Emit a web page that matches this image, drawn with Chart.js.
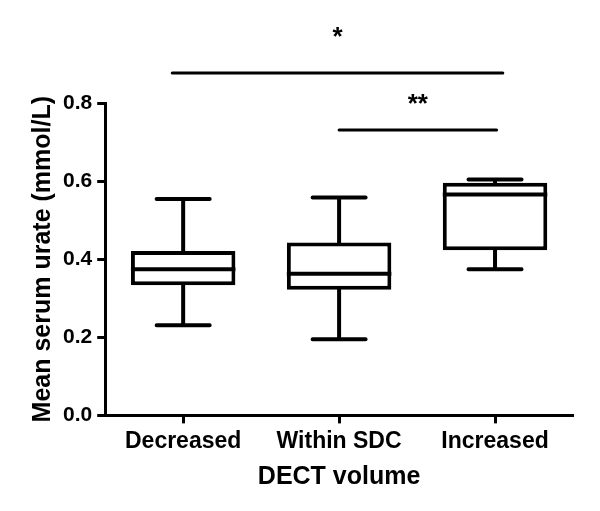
<!DOCTYPE html>
<html>
<head>
<meta charset="utf-8">
<script src="https://cdn.jsdelivr.net/npm/chart.js@4.4.0/dist/chart.umd.min.js"></script>
<style>
  html, body { margin: 0; padding: 0; background: #fff; }
  #wrap { width: 600px; height: 511px; }
</style>
</head>
<body>
<div id="wrap"><canvas id="chart" width="600" height="511"></canvas></div>
<script>
// box plot values (mmol/L)
const categories = ["Decreased", "Within SDC", "Increased"];
const whiskerMin = [0.231, 0.195, 0.374];
const quartile1 = [0.333, 0.322, 0.423];
const medians = [0.374, 0.363, 0.566];
const quartile3 = [0.421, 0.443, 0.596];
const whiskerMax = [0.554, 0.558, 0.604];

// significance brackets: from category, to category, label, line height, label height
const sigFrom = [-0.07, 1.0];
const sigTo = [2.05, 2.01];
const sigLabels = ["*", "**"];
const sigLineY = [0.877, 0.731];
const sigLabelY = [0.98, 0.808];

const yTicks = [0, 0.2, 0.4, 0.6, 0.8];

const FONT = "'Liberation Sans', Arial, sans-serif";

// whiskers, caps, medians and significance bars
const boxExtras = {
  id: "boxExtras",
  afterDraw(chart) {
    const ctx = chart.ctx;
    const x = chart.scales.x;
    const y = chart.scales.y;
    ctx.save();
    ctx.strokeStyle = "#000";
    ctx.lineWidth = 4;
    ctx.lineCap = "round";
    categories.forEach((c, i) => {
      const cx = x.getPixelForValue(i);
      const capL = x.getPixelForValue(i - 0.17);
      const capR = x.getPixelForValue(i + 0.17);
      const boxL = x.getPixelForValue(i - 0.335);
      const boxR = x.getPixelForValue(i + 0.335);
      ctx.beginPath();
      // upper whisker
      ctx.moveTo(cx, y.getPixelForValue(quartile3[i]));
      ctx.lineTo(cx, y.getPixelForValue(whiskerMax[i]));
      ctx.moveTo(capL, y.getPixelForValue(whiskerMax[i]));
      ctx.lineTo(capR, y.getPixelForValue(whiskerMax[i]));
      // lower whisker
      ctx.moveTo(cx, y.getPixelForValue(quartile1[i]));
      ctx.lineTo(cx, y.getPixelForValue(whiskerMin[i]));
      ctx.moveTo(capL, y.getPixelForValue(whiskerMin[i]));
      ctx.lineTo(capR, y.getPixelForValue(whiskerMin[i]));
      ctx.stroke();
      // median
      ctx.beginPath();
      ctx.lineCap = "butt";
      ctx.moveTo(boxL, y.getPixelForValue(medians[i]));
      ctx.lineTo(boxR, y.getPixelForValue(medians[i]));
      ctx.stroke();
      ctx.lineCap = "round";
    });

    ctx.lineWidth = 3;
    ctx.fillStyle = "#000";
    ctx.font = "bold 26px " + FONT;
    ctx.textAlign = "center";
    ctx.textBaseline = "middle";
    sigLabels.forEach((lab, k) => {
      const ly = y.getPixelForValue(sigLineY[k]);
      ctx.beginPath();
      ctx.moveTo(x.getPixelForValue(sigFrom[k]), ly);
      ctx.lineTo(x.getPixelForValue(sigTo[k]), ly);
      ctx.stroke();
      const mid = (sigFrom[k] + sigTo[k]) / 2;
      ctx.fillText(lab, x.getPixelForValue(mid), y.getPixelForValue(sigLabelY[k]) + 5);
    });
    ctx.restore();
  }
};

new Chart(document.getElementById("chart"), {
  type: "bar",
  data: {
    labels: categories,
    datasets: [{
      data: categories.map((c, i) => [quartile1[i], quartile3[i]]),
      backgroundColor: "#fff",
      borderColor: "#000",
      borderWidth: 4,
      borderSkipped: false,
      barPercentage: 0.67,
      categoryPercentage: 1
    }]
  },
  options: {
    responsive: false,
    animation: false,
    layout: { padding: { top: 103, right: 27, bottom: 15, left: 28 } },
    plugins: {
      legend: { display: false },
      tooltip: { enabled: false }
    },
    scales: {
      x: {
        offset: true,
        border: { display: true, color: "#000", width: 3 },
        grid: {
          display: true, drawOnChartArea: false, drawTicks: true, offset: false,
          tickLength: 8, tickWidth: 3, tickColor: "#000"
        },
        ticks: { color: "#000", font: { family: FONT, size: 23, weight: "bold" }, padding: 4 },
        title: {
          display: true, text: "DECT volume", color: "#000",
          font: { family: FONT, size: 25, weight: "bold" }, padding: { top: 3 }
        }
      },
      y: {
        min: 0,
        max: 0.8,
        afterBuildTicks(axis) { axis.ticks = yTicks.map(v => ({ value: v })); },
        border: { display: true, color: "#000", width: 3 },
        grid: {
          display: true, drawOnChartArea: false, drawTicks: true,
          tickLength: 8, tickWidth: 3, tickColor: "#000"
        },
        ticks: {
          color: "#000", font: { family: FONT, size: 21, weight: "bold" }, padding: 5,
          callback: v => Number(v).toFixed(1)
        },
        title: {
          display: true, text: "Mean serum urate (mmol/L)", color: "#000",
          font: { family: FONT, size: 25, weight: "bold" }, padding: 0
        }
      }
    }
  },
  plugins: [boxExtras]
});
</script>
</body>
</html>
